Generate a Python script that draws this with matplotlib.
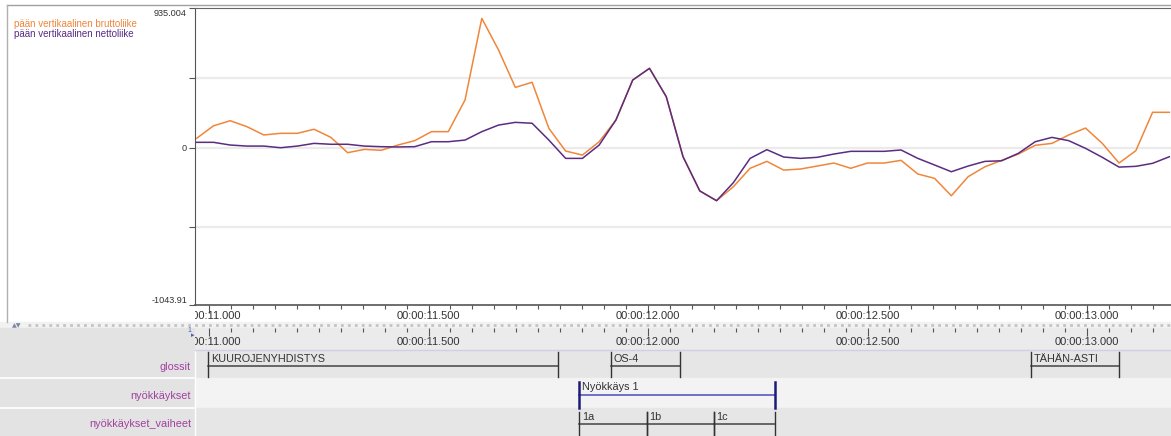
import numpy as np
import matplotlib
matplotlib.use("Agg")
import matplotlib.pyplot as plt
from matplotlib.ticker import MultipleLocator
from matplotlib.patches import Rectangle

plt.rcParams["font.family"] = ["Liberation Sans", "DejaVu Sans"]

# head movement (ELAN time series viewer), one sample every ~38 ms
t_start = 10.972
t_step = 0.0382
brutto = [67, 150, 184, 144, 89, 100, 100, 127, 73, -29, -7, -13, 22, 51, 111, 111,
          322, 866, 655, 406, 440, 133, -18, -45, 44, 189, 455, 533, 344,
          -56, -284, -349, -256, -133, -87, -145, -138, -118, -98, -133, -98, -98,
          -80, -171, -200, -316, -189, -123, -80, -38, 20, 33, 89, 135, 33, -98,
          -16, 240, 240]
netto = [40, 40, 22, 15, 15, 4, 15, 33, 27, 27, 15, 11, 9, 11, 44, 44, 55, 111,
         155, 173, 167, 55, -67, -67, 22, 189, 455, 533, 344,
         -56, -284, -349, -229, -67, -9, -58, -67, -60, -38, -20, -20, -20, -11,
         -67, -111, -156, -118, -87, -83, -33, 44, 73, 51, 0, -60, -125, -120,
         -100, -56]
y_max = 935.004
y_min = -1043.91

# annotation tiers
tier_names = ["glossit", "nyökkäykset", "nyökkäykset_vaiheet"]
gloss_labels = ["KUUROJENYHDISTYS", "OS-4", "TÄHÄN-ASTI"]
gloss_start = [10.998, 11.915, 12.872]
gloss_end = [11.794, 12.074, 13.072]
nod_labels = ["Nyökkäys 1"]
nod_start = [11.843]
nod_end = [12.289]
phase_labels = ["1a", "1b", "1c"]
phase_start = [11.843, 11.997, 12.150]
phase_end = [11.997, 12.150, 12.289]

W, H = 1171, 436
T0 = 11 + (195 - 209) / 439.0
T1 = 11 + (W - 209) / 439.0

c_brutto = "#f0863a"
c_netto = "#5a2c82"
c_tier = "#a0409f"
c_text = "#333333"


def rect(x0, y0, x1, y1):
    return [x0 / W, 1 - y1 / H, (x1 - x0) / W, (y1 - y0) / H]


fig = plt.figure(figsize=(W / 100, H / 100), dpi=100)

# background in pixel coordinates
bg = fig.add_axes([0, 0, 1, 1])
bg.set_xlim(0, W)
bg.set_ylim(H, 0)
bg.axis("off")
bg.add_patch(Rectangle((0, 0), W, 322, color="white"))
bg.plot([7, W], [5, 5], color="#a0a0a0", lw=1)
bg.plot([7, 7], [5, 322], color="#b0b0b0", lw=1)
bg.add_patch(Rectangle((0, 322), W, 6, color="#f2f2f2"))
bg.plot([28, W], [325, 325], color="#c4c4c4", lw=2, ls=(0, (1, 1.5)))
bg.text(12, 325.5, "▲▼", fontsize=4.5, color="#7a86a8", va="center",
        family=["DejaVu Sans"])
bg.add_patch(Rectangle((0, 328), 194, H - 328, color="#e3e3e3"))
bg.plot([0, 194], [378, 378], color="white", lw=1.2)
bg.plot([0, 194], [408, 408], color="white", lw=1.2)
bg.plot([194.5, 194.5], [350, H], color="white", lw=1)
bg.add_patch(Rectangle((195, 328), W - 195, 22, color="#ebebeb"))
bg.add_patch(Rectangle((195, 350), W - 195, 28, color="#e6e6e6"))
bg.add_patch(Rectangle((195, 378), W - 195, 30, color="#f3f3f3"))
bg.add_patch(Rectangle((195, 408), W - 195, H - 408, color="#e6e6e6"))
bg.plot([195, W], [350, 350], color="#cfcfe8", lw=1)

# legend and value labels
bg.text(14, 24, "pään vertikaalinen bruttoliike", fontsize=7.0, color=c_brutto, va="center")
bg.text(14, 34, "pään vertikaalinen nettoliike", fontsize=7.0, color=c_netto, va="center")
bg.text(187, 14, "935.004", fontsize=6.6, color=c_text, ha="right", va="center")
bg.text(187, 148, "0", fontsize=6.6, color=c_text, ha="right", va="center")
bg.text(187, 300, "-1043.91", fontsize=6.6, color=c_text, ha="right", va="center")

for name, yc in zip(tier_names, [367, 396, 424]):
    bg.text(191, yc, name, fontsize=7.8, color=c_tier, ha="right", va="center")
bg.text(191, 330, "1", fontsize=5, color="#4a5fb0", ha="right", va="center")
bg.text(191, 335, "▸", fontsize=5, color="#4a5fb0", ha="left", va="center",
        family=["DejaVu Sans"])

# time series plot
ax = fig.add_axes(rect(195, 8, W, 305))
times = t_start + t_step * np.arange(len(brutto))
ax.set_xlim(T0, T1)
ax.set_ylim(y_min, y_max)
for g in [y_max / 2, 0, y_min / 2]:
    ax.axhline(g, color="#ebebeb", lw=1.6, zorder=0)
ax.plot(times, brutto, color=c_brutto, lw=1.1)
ax.plot(times, netto, color=c_netto, lw=1.1)
ax.set_yticks([y_min, y_min / 2, 0, y_max / 2, y_max])
ax.set_yticklabels([])
ax.set_xticks([])
ax.tick_params(axis="y", direction="out", length=4, width=0.8, color="#555555")
ax.spines["right"].set_visible(False)
ax.spines["top"].set_color("#666666")
ax.spines["left"].set_color("#555555")
ax.spines["bottom"].set_color("#555555")
ax.spines["bottom"].set_linewidth(1.2)


def ruler(y0, y1, label_y):
    r = fig.add_axes(rect(195, y0, W, y1))
    r.set_xlim(T0, T1)
    r.set_ylim(y1, y0)
    r.patch.set_alpha(0)
    for s in r.spines.values():
        s.set_visible(False)
    r.xaxis.set_ticks_position("top")
    r.xaxis.set_major_locator(MultipleLocator(0.5))
    r.xaxis.set_minor_locator(MultipleLocator(0.05))
    r.tick_params(axis="x", which="major", direction="in", length=6, width=0.8,
                  color="#555555", labeltop=False)
    r.tick_params(axis="x", which="minor", direction="in", length=3, width=0.8,
                  color="#555555")
    r.set_yticks([])
    for t in [11.0, 11.5, 12.0, 12.5, 13.0]:
        r.text(t, label_y, "00:00:%06.3f" % t, fontsize=8.0, color=c_text,
               ha="center", va="center", clip_on=True)
    return r


ruler(305, 322, 316)
ruler(328, 350, 342)

# annotation tiers
tier = fig.add_axes(rect(195, 328, W, H))
tier.set_xlim(T0, T1)
tier.set_ylim(H, 328)
tier.axis("off")


def draw_tier(labels, starts, ends, top, line_y, bottom, color, line_color, vlw):
    for lab, s, e in zip(labels, starts, ends):
        tier.plot([s, e], [line_y, line_y], color=line_color, lw=1.1)
        tier.plot([s, s], [top, bottom], color=color, lw=vlw)
        tier.plot([e, e], [top, bottom], color=color, lw=vlw)
        tier.text(s + 0.006, line_y - 7.5, lab, fontsize=7.8, color=c_text,
                  va="center", ha="left")


draw_tier(gloss_labels, gloss_start, gloss_end, 352, 366, 377, "#333333", "#444444", 1.0)
draw_tier(nod_labels, nod_start, nod_end, 382, 395, 408, "#1c1c78", "#4b4bbd", 1.8)
draw_tier(phase_labels, phase_start, phase_end, 412, 424, 436, "#333333", "#444444", 1.0)

fig.savefig("out.png", dpi=100)
